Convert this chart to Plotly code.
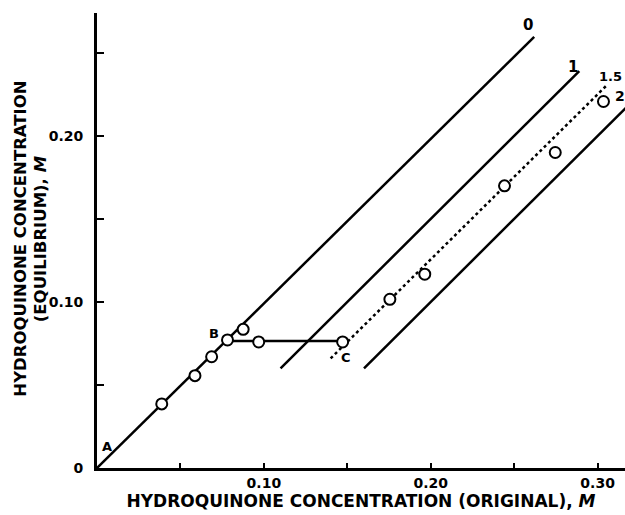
import plotly.graph_objects as go

# Experimental points (original, equilibrium), M
pts_x = [0.0388, 0.0587, 0.0687, 0.0782, 0.0876, 0.0969, 0.1472, 0.1755, 0.1964, 0.2442, 0.2746, 0.3035]
pts_y = [0.0386, 0.0556, 0.0670, 0.0771, 0.0835, 0.0759, 0.0759, 0.1016, 0.1167, 0.1699, 0.1900, 0.2207]

# Reference lines (labelled by ratio)
line0_x = [0.0, 0.262]
line0_y = [0.0, 0.2596]
line1_x = [0.110, 0.289]
line1_y = [0.060, 0.239]
line2_x = [0.160, 0.330]
line2_y = [0.060, 0.230]
line15_x = [0.140, 0.306]
line15_y = [0.066, 0.231]
bc_x = [0.078, 0.147]
bc_y = [0.0765, 0.0765]

x_tickvals = [0, 0.05, 0.10, 0.15, 0.20, 0.25, 0.30]
x_ticktext = ["", "", "0.10", "", "0.20", "", "0.30"]
y_tickvals = [0, 0.05, 0.10, 0.15, 0.20, 0.25]
y_ticktext = ["0", "", "0.10", "", "0.20", ""]

line_labels = ["0", "1", "1.5", "2"]
line_label_x = [0.2585, 0.2854, 0.3075, 0.3132]
line_label_y = [0.2669, 0.2416, 0.2360, 0.2240]
line_label_size = [15, 15, 13, 14]

pt_labels = ["A", "B", "C"]
pt_label_x = [0.0058, 0.0704, 0.1490]
pt_label_y = [0.0127, 0.0807, 0.0666]

x_title = "HYDROQUINONE CONCENTRATION (ORIGINAL), <i>M</i>"
y_title_lines = ["HYDROQUINONE CONCENTRATION", "(EQUILIBRIUM), <i>M</i>"]
y_title_pos = [-0.145, -0.108]

FONT = "DejaVu Sans"
solid = dict(color="black", width=2.5)

fig = go.Figure()
for xs, ys in [(line0_x, line0_y), (line1_x, line1_y), (line2_x, line2_y), (bc_x, bc_y)]:
    fig.add_trace(go.Scatter(x=xs, y=ys, mode="lines", line=solid, showlegend=False, hoverinfo="skip"))
fig.add_trace(go.Scatter(x=line15_x, y=line15_y, mode="lines",
                         line=dict(color="black", width=2.5, dash="dot"), showlegend=False))
fig.add_trace(go.Scatter(x=pts_x, y=pts_y, mode="markers",
                         marker=dict(symbol="circle", size=11, color="white",
                                     line=dict(color="black", width=2)),
                         showlegend=False))

for t, x, y, s in zip(line_labels, line_label_x, line_label_y, line_label_size):
    fig.add_annotation(x=x, y=y, text=t, showarrow=False,
                       font=dict(family=FONT, size=s, color="black", weight="bold"))
for t, x, y in zip(pt_labels, pt_label_x, pt_label_y):
    fig.add_annotation(x=x, y=y, text=t, showarrow=False,
                       font=dict(family=FONT, size=13, color="black", weight="bold"))

# y-axis title: two rotated lines placed individually
for t, x in zip(y_title_lines, y_title_pos):
    fig.add_annotation(xref="paper", yref="paper", x=x, y=0.505, text=t,
                       textangle=-90, showarrow=False, xanchor="center", yanchor="middle",
                       font=dict(family=FONT, size=16.5, color="black", weight="bold"))

axis_common = dict(showgrid=False, zeroline=False, showline=True, linecolor="black",
                   linewidth=3, ticks="inside", tickcolor="black", tickwidth=2,
                   tickfont=dict(family=FONT, size=14, color="black", weight="bold"))

fig.update_xaxes(range=[0, 0.3164], tickmode="array", tickvals=x_tickvals, ticktext=x_ticktext,
                 ticklen=5,
                 title=dict(text=x_title,
                            font=dict(family=FONT, size=17, color="black", weight="bold"),
                            standoff=0),
                 **axis_common)
fig.update_yaxes(range=[0, 0.274], tickmode="array", tickvals=y_tickvals, ticktext=y_ticktext,
                 ticklen=7, ticklabelstandoff=8,
                 **axis_common)

fig.update_layout(width=625, height=515, margin=dict(l=97, r=0, t=13, b=47),
                  plot_bgcolor="white", paper_bgcolor="white")

fig.write_html("out.html", config={"displayModeBar": False},
               post_script="document.body.style.margin='0';document.body.style.overflow='hidden';")
